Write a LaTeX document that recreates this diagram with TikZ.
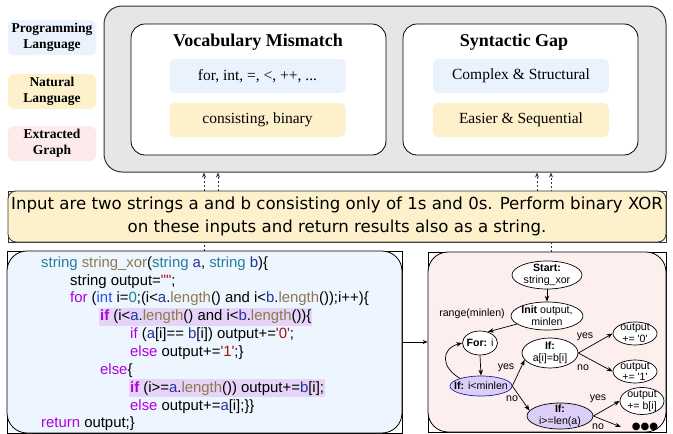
\documentclass[tikz,border=0pt]{standalone}
\usepackage{fontspec}
\setmainfont{Liberation Serif}
\newfontfamily\arialf{Liberation Sans}
\newfontfamily\dejavuf{DejaVu Sans}
\usetikzlibrary{shapes.geometric,arrows.meta}
\definecolor{grayfill}{HTML}{E6E6E6}
\definecolor{plfill}{HTML}{EAF3FD}
\definecolor{nlfill}{HTML}{FDF1CC}
\definecolor{egfill}{HTML}{FCEBEA}
\definecolor{codefill}{HTML}{EDF5FE}
\definecolor{graphfill}{HTML}{FCEFEE}
\definecolor{lavfill}{HTML}{DCCFF7}
\definecolor{bluebord}{HTML}{1E1EA8}
\definecolor{hlc}{HTML}{E6D3F8}
\definecolor{kwc}{HTML}{AF00DB}
\definecolor{tyc}{HTML}{267F99}
\definecolor{fnc}{HTML}{8C7A4E}
\definecolor{vac}{HTML}{23359C}
\definecolor{nuc}{HTML}{15879A}
\definecolor{stc}{HTML}{A31515}
\definecolor{inc}{HTML}{2B50E8}
\definecolor{bordc}{HTML}{333333}
\newcommand\ckw[1]{\textcolor{kwc}{#1}}
\newcommand\cty[1]{\textcolor{tyc}{#1}}
\newcommand\cfn[1]{\textcolor{fnc}{#1}}
\newcommand\cva[1]{\textcolor{vac}{#1}}
\newcommand\cnu[1]{\textcolor{nuc}{#1}}
\newcommand\cst[1]{\textcolor{stc}{#1}}
\newcommand\cin[1]{\textcolor{inc}{#1}}
\newcommand\sq{\textquotesingle}
\begin{document}
\begin{tikzpicture}[x=1pt,y=-1pt,
  box/.style={draw=black, line width=0.8pt, rectangle, inner sep=0pt},
  legendbox/.style={rectangle, rounded corners=6pt, inner sep=0pt, minimum width=88pt, minimum height=35pt, align=center, font=\fontsize{13.5}{16}\selectfont\bfseries},
  innerbox/.style={rectangle, rounded corners=5pt, inner sep=0pt, minimum width=176pt, minimum height=34pt, font=\fontsize{15.5}{18}\selectfont},
  titletext/.style={inner sep=0pt, font=\fontsize{18}{21}\selectfont\bfseries},
  codeline/.style={anchor=base west, inner sep=0pt, font=\arialf\fontsize{14.9}{17.8}\selectfont},
  hl/.style={fill=hlc, inner xsep=1pt, inner ysep=2pt},
  gnode/.style={ellipse, draw=black, fill=white, line width=0.7pt, inner sep=0pt},
  gtext/.style={inner sep=0pt, align=center, font=\arialf\fontsize{10.6}{11.8}\selectfont},
  glabel/.style={inner sep=0pt, font=\arialf\fontsize{10.6}{11.8}\selectfont},
  garrow/.style={-{Stealth[length=6pt,width=4.5pt]}, line width=0.7pt},
  dasharrow/.style={-{Stealth[length=5pt,width=4pt]}, line width=0.6pt, dash pattern=on 2pt off 2pt, draw=bordc}
]
\useasboundingbox (0,0) rectangle (673,434);

% legend
\node[legendbox, fill=plfill] (pl) at (52,37.5) {Programming\\Language};
\node[legendbox, fill=nlfill] (nl) at (52,91.5) {Natural\\Language};
\node[legendbox, fill=egfill] (eg) at (52,143.5) {Extracted\\Graph};

% top gray box
\node[box, draw=bordc, line width=1pt, fill=grayfill, rounded corners=18pt, minimum width=562pt, minimum height=166pt] (gray) at (385,89) {};
\node[box, fill=white, rounded corners=14pt, minimum width=255pt, minimum height=131pt] (vocab) at (258.5,89.5) {};
\node[box, fill=white, rounded corners=14pt, minimum width=235pt, minimum height=131pt] (syn) at (520.5,89.5) {};
\node[titletext] (vtitle) at (258,42) {Vocabulary Mismatch};
\node[titletext] (stitle) at (514,42) {Syntactic Gap};
\node[innerbox, fill=plfill] (vpl) at (257.5,76) {for, int, =, <, ++, ...};
\node[innerbox, fill=nlfill] (vnl) at (257.5,120) {consisting, binary};
\node[innerbox, fill=plfill] (spl) at (521,76) {Complex \& Structural};
\node[innerbox, fill=nlfill] (snl) at (521,120) {Easier \& Sequential};

% coordinates for the dashed links
\coordinate (xa) at (204,0);
\coordinate (xb) at (218,0);
\coordinate (xc) at (537,0);
\coordinate (xd) at (551,0);

% lower boxes (positions needed for links)
\path (337,216.5) node[box, draw=bordc, minimum width=658pt, minimum height=51pt] (nltext) {};
\path (204.5,342) node[box, minimum width=395pt, minimum height=182pt] (code) {};
\path (547,342) node[box, minimum width=238pt, minimum height=180pt] (graph) {};

\draw[dasharrow] (code.north -| xa) -- (gray.south -| xa);
\draw[dasharrow] (graph.north -| xd) -- (gray.south -| xd);
\draw[dasharrow] (nltext.north -| xb) -- (gray.south -| xb);
\draw[dasharrow] (nltext.north -| xc) -- (gray.south -| xc);

% natural language text box
\node[box, draw=bordc, fill=nlfill, rounded corners=8pt, minimum width=658pt, minimum height=51pt, align=center, font=\dejavuf\fontsize{16.6}{23}\selectfont] (nltextb) at (337,216.5)
 {Input are two strings a and b consisting only of 1s and 0s. Perform binary XOR\\on these inputs and return results also as a string.};

% code box
\node[box, fill=codefill, rounded corners=20pt, minimum width=395pt, minimum height=182pt] (codeb) at (204.5,342) {};
\node[box, fill=graphfill, rounded corners=20pt, minimum width=238pt, minimum height=180pt] (graphb) at (547,342) {};
\draw[-{Stealth[length=5pt,width=4pt]}, line width=0.6pt] (codeb.east) -- (graphb.west);

% code lines
\node[codeline] (c1) at (41,267.2) {\cty{string} \cfn{string\_xor}(\cty{string} \cva{a}, \cty{string} \cva{b})\{};
\node[codeline] (c2) at (70,285.0) {string output=\cst{\textquotedbl\textquotedbl};};
\node[codeline] (c3) at (70,302.9) {\ckw{for} (\cin{int} i=\cnu{0};(i<\cva{a}.\cfn{length}() and i<\cva{b}.\cfn{length}());i++)\{};
\node[codeline, hl] (c4) at (99,320.7) {\ckw{\textbf{if}} (i<\cva{a}.\cfn{length}() and i<\cva{b}.\cfn{length}())\{};
\node[codeline] (c5) at (130,338.6) {\ckw{if} (\cva{a}[i]== \cva{b}[i]) output+=\cst{\sq 0\sq};};
\node[codeline] (c6) at (130,356.4) {\ckw{else} output+=\cst{\sq 1\sq};\}};
\node[codeline] (c7) at (100,374.3) {\ckw{else}\{};
\node[codeline, hl] (c8) at (129,392.1) {\ckw{\textbf{if}} (i>=\cva{a}.\cfn{length}()) output+=\cva{b}[i];};
\node[codeline] (c9) at (130,410.0) {\ckw{else} output+=\cva{a}[i];\}\}};
\node[codeline] (c10) at (41,427.8) {\ckw{return} output;\}};

% graph
\node[gnode, minimum width=70pt, minimum height=28pt, label={[gtext]center:{\textbf{Start:}\\string\_xor}}] (start) at (547,275) {};
\node[gnode, minimum width=72pt, minimum height=28pt, label={[gtext]center:{\textbf{Init} output,\\minlen}}] (init) at (547,316) {};
\node[gnode, minimum width=35pt, minimum height=24pt, label={[gtext]center:{\textbf{For:} i}}] (for) at (480,343) {};
\node[gnode, draw=bluebord, fill=lavfill, minimum width=62pt, minimum height=20pt, label={[gtext]center:{\textbf{If:} i<minlen}}] (if1) at (481,386) {};
\node[gnode, minimum width=56pt, minimum height=30pt, label={[gtext]center:{\textbf{If:}\\a[i]=b[i]}}] (if2) at (550,353) {};
\node[gnode, fill=lavfill, minimum width=66pt, minimum height=26pt, label={[gtext]center:{\textbf{If:}\\i>=len(a)}}] (if3) at (560,416) {};
\node[gnode, minimum width=44pt, minimum height=23pt, label={[gtext]center:{output\\+= \sq 0\sq}}] (out0) at (635,333.5) {};
\node[gnode, minimum width=44pt, minimum height=23pt, label={[gtext]center:{output\\+= \sq 1\sq}}] (out1) at (635,371.5) {};
\node[gnode, minimum width=44pt, minimum height=27pt, label={[gtext]center:{output\\+= b[i]}}] (out2) at (642,401) {};
\node[inner sep=0pt, font=\dejavuf\fontsize{10}{11}\selectfont] (dots) at (645,427) {●●●};
\coordinate (noend) at (621,427);

\draw[garrow] (start.south) -- (init.north);
\draw[garrow] (init.195) -- (for.55) node[glabel] at (472,314) {range(minlen)};
\draw[garrow] (for.south) -- (if1.north);
\draw[garrow] (if1.160) to[out=150,in=195,looseness=1.6] (for.west);
\draw[garrow] (if1.east) -- (if2.195) node[glabel] at (506,368) {yes};
\draw[garrow] (if1.east) -- (if3.170) node[glabel] at (512,399) {no};
\draw[garrow] (if2.east) -- (out0.west) node[glabel] at (585,337) {yes};
\draw[garrow] (if2.east) -- (out1.west) node[glabel] at (583,368) {no};
\draw[garrow] (if3.east) -- (out2.west) node[glabel] at (598,399) {yes};
\draw[garrow] (if3.east) -- (noend) node[glabel] at (598,427) {no};
\end{tikzpicture}
\end{document}
